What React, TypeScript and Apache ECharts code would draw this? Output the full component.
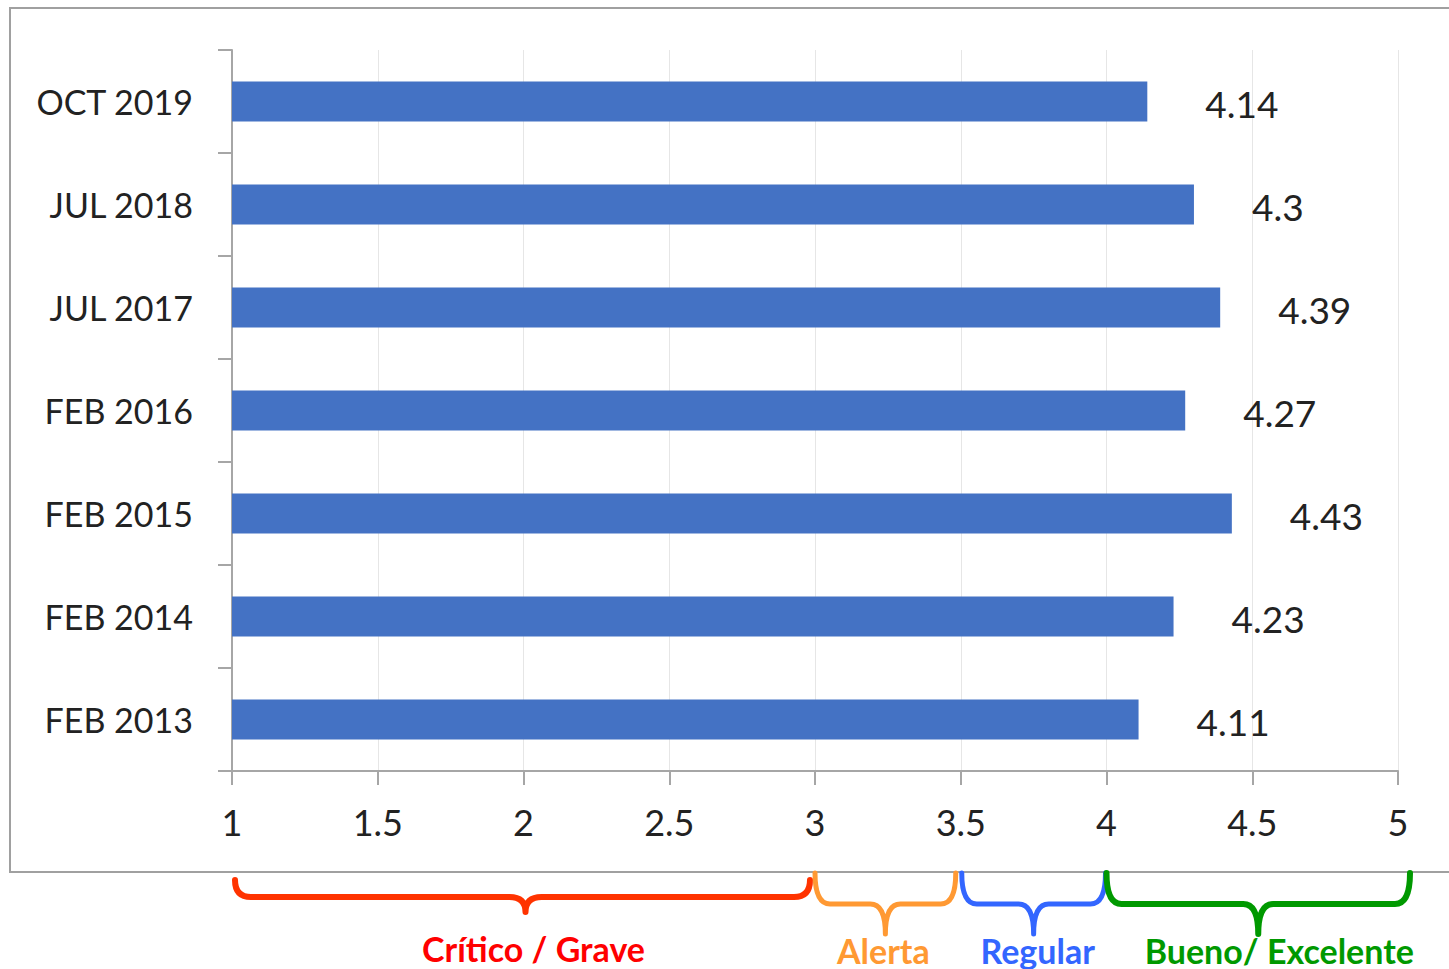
import React, { useEffect, useRef } from "react";
import * as echarts from "echarts";

const categories = ["FEB 2013", "FEB 2014", "FEB 2015", "FEB 2016", "JUL 2017", "JUL 2018", "OCT 2019"];
const values = [4.11, 4.23, 4.43, 4.27, 4.39, 4.3, 4.14];
const xTicksMin = 1;
const xTicksMax = 5;
const xTickStep = 0.5;

const rangeLabels = ["Crítico / Grave", "Alerta", "Regular", "Bueno/ Excelente"];
const rangeFrom = [1, 3, 3.5, 4];
const rangeTo = [3, 3.5, 4, 5];
const braceColors = ["#FF3300", "#FF9933", "#3366FF", "#009900"];
const textColors = ["#FF0000", "#FF9933", "#3366FF", "#009900"];

const FONT = "Lato, 'Open Sans', sans-serif";

let registered = false;
function registerBrace() {
  if (registered) return;
  registered = true;
  const Brace = (echarts.graphic as any).extendShape({
    type: "brace",
    shape: { x1: 0, x2: 0, y0: 0, y1: 0, xm: 0, tip: 0, r: 14 },
    buildPath(ctx: any, s: any) {
      const r = s.r;
      ctx.moveTo(s.x1, s.y0);
      ctx.quadraticCurveTo(s.x1, s.y1, s.x1 + r, s.y1);
      ctx.lineTo(s.xm - r, s.y1);
      ctx.quadraticCurveTo(s.xm, s.y1, s.xm, s.tip);
      ctx.quadraticCurveTo(s.xm, s.y1, s.xm + r, s.y1);
      ctx.lineTo(s.x2 - r, s.y1);
      ctx.quadraticCurveTo(s.x2, s.y1, s.x2, s.y0);
    },
  });
  (echarts.graphic as any).registerShape("brace", Brace);
}

export default function App() {
  const ref = useRef<HTMLDivElement>(null);

  useEffect(() => {
    if (!ref.current) return;
    registerBrace();
    const chart = echarts.init(ref.current, null, { renderer: "svg" });
    const axisColor = "#a6a6a6";
    const option: any = {
      animation: false,
      backgroundColor: "#ffffff",
      grid: { left: 232, right: 51, top: 50, bottom: 198, containLabel: false },
      xAxis: {
        type: "value",
        min: xTicksMin,
        max: xTicksMax,
        interval: xTickStep,
        axisLine: { show: true, lineStyle: { color: axisColor, width: 2 } },
        axisTick: { show: true, length: 14, lineStyle: { color: axisColor, width: 2 } },
        splitLine: { show: true, lineStyle: { color: "#e6e6e6", width: 1 } },
        axisLabel: { fontSize: 36, color: "#222", margin: 33, fontFamily: FONT },
      },
      yAxis: {
        type: "category",
        data: categories,
        axisLine: { show: true, lineStyle: { color: axisColor, width: 2 } },
        axisTick: { show: true, length: 14, lineStyle: { color: axisColor, width: 2 } },
        axisLabel: { fontSize: 34, color: "#222", margin: 39, fontFamily: FONT },
        splitLine: { show: false },
      },
      series: [
        {
          type: "bar",
          data: values,
          barWidth: 40,
          itemStyle: { color: "#4472C4" },
          label: {
            show: true,
            position: "right",
            distance: 58,
            fontSize: 37,
            color: "#222",
            fontFamily: FONT,
            offset: [0, 2],
          },
        },
      ],
    };
    chart.setOption(option);

    const graphics: any[] = [
      {
        type: "rect",
        shape: { x: 10, y: 8, width: 1460, height: 864 },
        style: { fill: "none", stroke: "#a0a0a0", lineWidth: 2 },
        silent: true,
      },
    ];
    const startAdj = [3, 0, 1, 0];
    const endAdj = [-5, -5, -1, 12];
    const textAdj = [11, -2, 4, 21];
    rangeLabels.forEach((label, i) => {
      const x1 = chart.convertToPixel({ xAxisIndex: 0 }, rangeFrom[i]) as number;
      const x2 = chart.convertToPixel({ xAxisIndex: 0 }, rangeTo[i]) as number;
      const isRed = i === 0;
      const bx1 = x1 + startAdj[i];
      const bx2 = x2 + endAdj[i];
      const xm = (bx1 + bx2) / 2;
      graphics.push({
        type: "brace",
        shape: {
          x1: bx1,
          x2: bx2,
          y0: isRed ? 880 : 873,
          y1: isRed ? 897 : 904,
          xm: xm + (isRed ? 3 : 0),
          tip: isRed ? 912 : 934,
          r: isRed ? 16 : 15,
        },
        style: {
          fill: "none",
          stroke: braceColors[i],
          lineWidth: isRed || i === 3 ? 6 : 5,
          lineCap: "round",
          lineJoin: "round",
        },
        silent: true,
      });
      graphics.push({
        type: "text",
        x: xm + textAdj[i],
        y: isRed ? 948 : 950,
        style: {
          text: label,
          fill: textColors[i],
          font: `bold 34px ${FONT}`,
          align: "center",
          verticalAlign: "middle",
        },
        silent: true,
      });
    });
    chart.setOption({ graphic: graphics });

    return () => chart.dispose();
  }, []);

  return (
    <div
      ref={ref}
      style={{ position: "absolute", left: 0, top: 0, width: 1449, height: 969 }}
    />
  );
}
